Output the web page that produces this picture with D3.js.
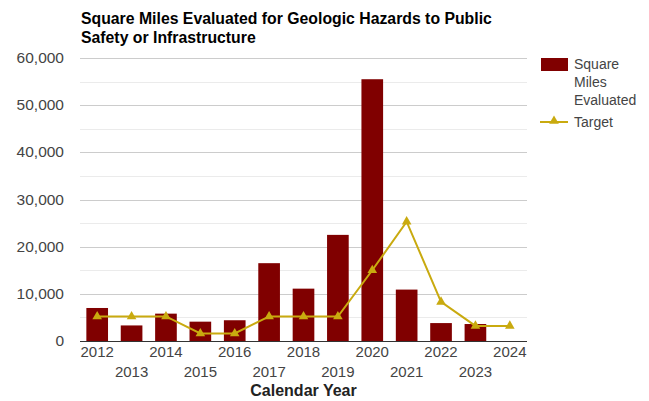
<!DOCTYPE html>
<html><head><meta charset="utf-8">
<script src="https://cdn.jsdelivr.net/npm/d3@7"></script>
<style>body{margin:0;background:#fff}svg{display:block;font-family:"Liberation Sans",Arial,sans-serif}</style>
</head><body><svg id="c" width="649" height="401"></svg>
<script>
const years = ["2012","2013","2014","2015","2016","2017","2018","2019","2020","2021","2022","2023","2024"];
const squareMiles = [7000,3300,5800,4100,4400,16500,11100,22500,55500,10900,3800,3600,null];
const target = [5200,5200,5200,1600,1600,5200,5200,5200,15000,25300,8300,3200,3200];
const yTicks = [0,10000,20000,30000,40000,50000,60000];
const minorTicks = [5000,15000,25000,35000,45000,55000];

const svg = d3.select("#c");
const m = {l:80, r:527, t:58, b:341};
const x = d3.scaleBand().domain(years).range([m.l, m.r]).paddingInner(0.37).paddingOuter(0.185);
const y = d3.scaleLinear().domain([0,60000]).range([m.b, m.t]);

// grid
svg.append("g").selectAll("line").data(minorTicks).join("line")
  .attr("x1",m.l).attr("x2",m.r).attr("y1",d=>Math.round(y(d))+0.5).attr("y2",d=>Math.round(y(d))+0.5)
  .attr("stroke","#ebebeb");
svg.append("g").selectAll("line").data(yTicks.slice(1)).join("line")
  .attr("x1",m.l).attr("x2",m.r).attr("y1",d=>Math.round(y(d))+0.5).attr("y2",d=>Math.round(y(d))+0.5)
  .attr("stroke","#cccccc");

// y labels
svg.append("g").selectAll("text").data(yTicks).join("text")
  .attr("x",m.l-16).attr("y",d=>y(d)+5).attr("text-anchor","end")
  .attr("font-size",15.5).attr("fill","#444").text(d=>d3.format(",")(d));

// bars
svg.append("g").selectAll("rect").data(years.map((yr,i)=>({yr,v:squareMiles[i]})).filter(d=>d.v!=null)).join("rect")
  .attr("x",d=>x(d.yr)).attr("width",x.bandwidth()).attr("y",d=>y(d.v)).attr("height",d=>y(0)-y(d.v))
  .attr("fill","#800000");

// baseline
svg.append("line").attr("x1",m.l).attr("x2",m.r).attr("y1",m.b+0.5).attr("y2",m.b+0.5).attr("stroke","#333");

// target line
const cx = d=>x(d)+x.bandwidth()/2;
const pts = years.map((yr,i)=>({yr,v:target[i]}));
svg.append("path").datum(pts)
  .attr("d",d3.line().x(d=>cx(d.yr)).y(d=>y(d.v)))
  .attr("fill","none").attr("stroke","#c9aa0f").attr("stroke-width",2);
const tri = d3.symbol().type(d3.symbolTriangle).size(40);
svg.append("g").selectAll("path").data(pts).join("path")
  .attr("transform",d=>`translate(${cx(d.yr)},${y(d.v)})`).attr("d",tri()).attr("fill","#c9aa0f");

// x labels
svg.append("g").selectAll("text").data(years).join("text")
  .attr("x",d=>cx(d)).attr("y",(d,i)=>i%2===0?357:377).attr("text-anchor","middle")
  .attr("font-size",15).attr("fill","#444").text(d=>d);
svg.append("text").attr("x",(m.l+m.r)/2).attr("y",396).attr("text-anchor","middle")
  .attr("font-size",16).attr("font-weight","bold").attr("fill","#222").text("Calendar Year");

// title
const title = ["Square Miles Evaluated for Geologic Hazards to Public","Safety or Infrastructure"];
svg.append("g").selectAll("text").data(title).join("text")
  .attr("x",81).attr("y",(d,i)=>24+i*19).attr("font-size",15.8).attr("font-weight","bold").attr("fill","#000").text(d=>d);

// legend
const lg = svg.append("g");
lg.append("rect").attr("x",541).attr("y",58).attr("width",27).attr("height",13).attr("fill","#800000");
["Square","Miles","Evaluated"].forEach((t,i)=>lg.append("text").attr("x",574).attr("y",69+i*18).attr("font-size",14).attr("fill","#444").text(t));
lg.append("line").attr("x1",540).attr("x2",568).attr("y1",122).attr("y2",122).attr("stroke","#c9aa0f").attr("stroke-width",2);
lg.append("path").attr("transform","translate(554,121)").attr("d",tri()).attr("fill","#c9aa0f");
lg.append("text").attr("x",574).attr("y",127).attr("font-size",14).attr("fill","#444").text("Target");
</script></body></html>
